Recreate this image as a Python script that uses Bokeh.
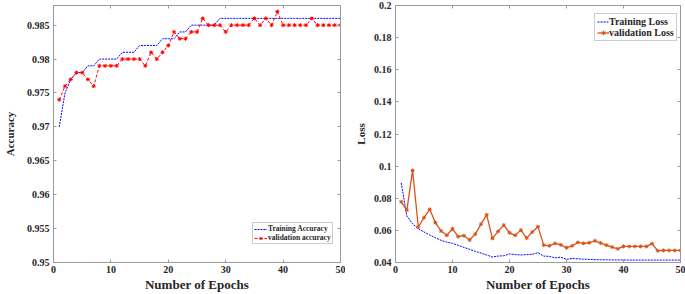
from bokeh.plotting import figure
from bokeh.layouts import row
from bokeh.models import LinearAxis, FixedTicker, Range1d
from bokeh.embed import file_html
from bokeh.resources import INLINE

epochs = list(range(1, 51))

train_acc = [0.970, 0.975, 0.977, 0.978, 0.978, 0.979, 0.979,
             0.980, 0.980, 0.980, 0.980,
             0.981, 0.981, 0.981,
             0.982, 0.982, 0.982, 0.982,
             0.983, 0.983, 0.983,
             0.984, 0.984,
             0.985, 0.985, 0.985, 0.985, 0.985] + [0.986] * 22

val_acc = [0.974, 0.976, 0.977, 0.978, 0.978, 0.977, 0.976, 0.979, 0.979, 0.979,
           0.979, 0.980, 0.980, 0.980, 0.980, 0.979, 0.981, 0.980, 0.981, 0.982,
           0.984, 0.983, 0.983, 0.984, 0.984, 0.986, 0.985, 0.985, 0.985, 0.984,
           0.985, 0.985, 0.985, 0.985, 0.986, 0.985, 0.986, 0.985, 0.987, 0.985,
           0.985, 0.985, 0.985, 0.985, 0.986, 0.985, 0.985, 0.985, 0.985, 0.985]

train_loss = [0.0896, 0.0689, 0.0641, 0.0610, 0.0590, 0.0571, 0.0554, 0.0538, 0.0527, 0.0519,
              0.0507, 0.0494, 0.0482, 0.0469, 0.0459, 0.0447, 0.0434, 0.0440, 0.0442, 0.0453,
              0.0449, 0.0447, 0.0449, 0.0451, 0.0461, 0.0440, 0.0438, 0.0429, 0.0433, 0.0420,
              0.0425, 0.0423, 0.0421, 0.0419, 0.0418, 0.0417, 0.0417, 0.0416, 0.0416, 0.0416,
              0.0415, 0.0415, 0.0415, 0.0415, 0.0415, 0.0415, 0.0415, 0.0415, 0.0415, 0.0415]

val_loss = [0.0778, 0.0726, 0.0973, 0.0621, 0.0679, 0.0731, 0.0648, 0.0596, 0.0569, 0.0610,
            0.0561, 0.0567, 0.0540, 0.0577, 0.0639, 0.0697, 0.0550, 0.0594, 0.0633, 0.0585,
            0.0569, 0.0602, 0.0552, 0.0590, 0.0623, 0.0508, 0.0504, 0.0519, 0.0510, 0.0492,
            0.0504, 0.0525, 0.0519, 0.0523, 0.0535, 0.0521, 0.0508, 0.0496, 0.0485, 0.0500,
            0.0500, 0.0500, 0.0500, 0.0500, 0.0517, 0.0473, 0.0475, 0.0475, 0.0475, 0.0475]

epoch_ticks = [0, 10, 20, 30, 40, 50]
acc_ticks = [0.95, 0.955, 0.96, 0.965, 0.97, 0.975, 0.98, 0.985]
acc_tick_labels = ["0.95", "0.955", "0.96", "0.965", "0.97", "0.975", "0.98", "0.985"]
loss_ticks = [0.04, 0.06, 0.08, 0.1, 0.12, 0.14, 0.16, 0.18, 0.2]
loss_tick_labels = ["0.04", "0.06", "0.08", "0.1", "0.12", "0.14", "0.16", "0.18", "0.2"]

FONT = "Liberation Serif"
AX_GREY = "#9a9a9a"
TXT = "#262626"


def style_axis(ax, ticks, labels=None, show_labels=True):
    ax.ticker = FixedTicker(ticks=ticks)
    ax.axis_line_color = AX_GREY
    ax.major_tick_line_color = AX_GREY
    ax.minor_tick_line_color = None
    ax.major_tick_in = 3
    ax.major_tick_out = 0
    if show_labels:
        if labels is not None:
            ax.major_label_overrides = {t: l for t, l in zip(ticks, labels)}
        ax.major_label_text_font = FONT
        ax.major_label_text_font_style = "bold"
        ax.major_label_text_font_size = "10px"
        ax.major_label_text_color = TXT
        ax.major_label_standoff = 4
    else:
        ax.major_label_overrides = {t: "" for t in ticks}
        ax.major_label_text_font_size = "1px"
        ax.major_label_standoff = 0


def make_fig(width, ylo, yhi, border_left, border_top, ylabel, yticks, ylabels, ylabel_standoff):
    p = figure(width=width, height=294, output_backend="svg", toolbar_location=None,
               x_range=Range1d(0, 50), y_range=Range1d(ylo, yhi),
               min_border_left=border_left, min_border_right=5,
               min_border_top=border_top, min_border_bottom=31)
    p.grid.visible = False
    p.outline_line_color = AX_GREY
    p.background_fill_color = "white"
    p.border_fill_color = "white"
    xa = p.xaxis[0]
    ya = p.yaxis[0]
    style_axis(xa, epoch_ticks)
    style_axis(ya, yticks, ylabels)
    xa.axis_label = "Number of Epochs"
    xa.axis_label_text_font = FONT
    xa.axis_label_text_font_style = "bold"
    xa.axis_label_text_font_size = "13px"
    xa.axis_label_text_color = TXT
    xa.axis_label_standoff = 1
    xa.major_label_standoff = 3
    ya.axis_label = ylabel
    ya.axis_label_text_font = FONT
    ya.axis_label_text_font_style = "bold"
    ya.axis_label_text_font_size = "11px"
    ya.axis_label_text_color = TXT
    ya.axis_label_standoff = ylabel_standoff
    ra = LinearAxis()
    style_axis(ra, yticks, show_labels=False)
    p.add_layout(ra, "right")
    ta = LinearAxis()
    style_axis(ta, epoch_ticks, show_labels=False)
    p.add_layout(ta, "above")
    return p


# Left: accuracy
p1 = make_fig(345, 0.95, 0.9879, 49, 3, "Accuracy", acc_ticks, acc_tick_labels, 8)
p1.line(epochs, train_acc, line_color="#0000ff", line_width=1, line_dash="2 1",
        legend_label="Training Accuracy")
p1.line(epochs, val_acc, line_color="#ff0000", line_width=1, line_dash="3 2",
        legend_label="validation accuracy")
p1.scatter(epochs, val_acc, marker="asterisk", size=4, line_color="#ff0000", line_width=1,
           legend_label="validation accuracy")
lg = p1.legend[0]
lg.location = (199, 18)
lg.label_text_font = FONT
lg.label_text_font_style = "bold"
lg.label_text_font_size = "7.5px"
lg.label_text_color = TXT
lg.label_height = 8
lg.glyph_height = 8
lg.glyph_width = 13
lg.label_standoff = 1
lg.padding = 1
lg.spacing = 0
lg.margin = 0
lg.border_line_color = AX_GREY
lg.border_line_width = 1
lg.background_fill_alpha = 1

# Right: loss
p2 = make_fig(340, 0.04, 0.2, 50, 5, "Loss", loss_ticks, loss_tick_labels, 4)
p2.line(epochs, train_loss, line_color="#0000ff", line_width=1, line_dash="2 1",
        legend_label="Training Loss")
p2.line(epochs, val_loss, line_color="#d95319", line_width=1.3,
        legend_label="validation Loss")
p2.scatter(epochs, val_loss, marker="asterisk", size=4, line_color="#d95319", line_width=1,
           legend_label="validation Loss")
lg2 = p2.legend[0]
lg2.location = (199, 221)
lg2.label_text_font = FONT
lg2.label_text_font_style = "bold"
lg2.label_text_font_size = "10px"
lg2.label_text_color = TXT
lg2.label_height = 11
lg2.glyph_height = 11
lg2.glyph_width = 12
lg2.label_standoff = 0
lg2.padding = 2
lg2.spacing = 0
lg2.margin = 0
lg2.border_line_color = AX_GREY
lg2.border_line_width = 1
lg2.background_fill_alpha = 1

layout = row(p1, p2)
open("out.html", "w").write(file_html(layout, INLINE))
